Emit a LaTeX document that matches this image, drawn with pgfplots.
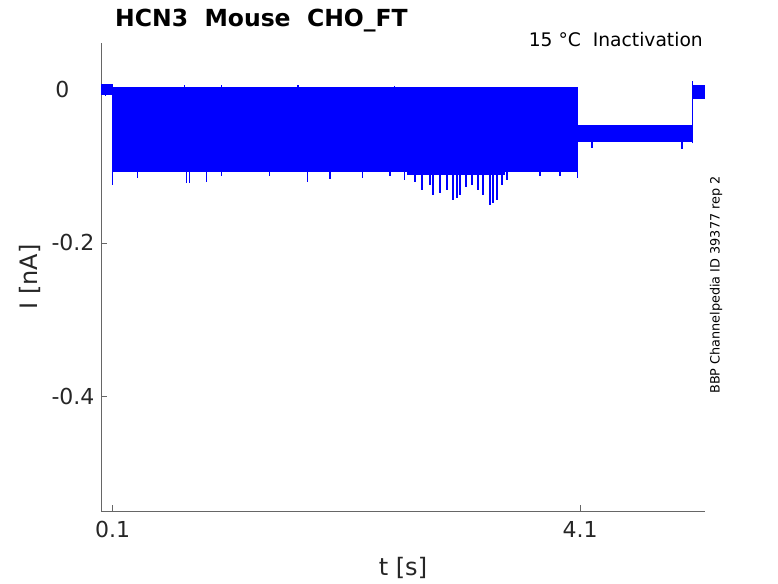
\documentclass[border=0pt]{standalone}
\usepackage{pgfplots}
\pgfplotsset{compat=1.18}
\usepackage{fontspec}
\setmainfont{DejaVu Sans}
\definecolor{tickgray}{rgb}{0.15,0.15,0.15}
\definecolor{axgray}{rgb}{0.40,0.40,0.40}
\definecolor{trace}{rgb}{0,0,1}
\begin{document}
\begin{tikzpicture}[x=1pt,y=1pt]
\begin{axis}[
  at={(101pt,72pt)}, anchor=south west,
  width=604pt, height=468pt, scale only axis,
  xmin=0, xmax=5.17, ymin=-0.55, ymax=0.061,
  axis x line*=bottom, axis y line*=left,
  axis line style={axgray, line width=0.7pt, -},
  tick align=inside, major tick length=6pt,
  tick style={axgray, line width=0.7pt},
  xtick={0.1,4.1}, xticklabels={0.1,4.1},
  ytick={-0.4,-0.2,0}, yticklabels={-0.4,-0.2,{0\kern25pt}},
  ticklabel style={font=\fontsize{22}{26}\selectfont, text=tickgray},
  xticklabel style={yshift=-7pt},
  yticklabel style={xshift=-3pt},
  unbounded coords=jump,
  clip=true,
]
% --- sweeps: plateaus (pre-pulse, test pulse, tail, post) ---
\pgfplotsset{sweep/.style={trace, line width=10pt, line cap=butt, line join=miter, no markers}}
\addplot[sweep] coordinates {(0,0.001) (0.1,0.001) (0.1,nan) (0.1,-0.0035) (4.08,-0.0035) (4.08,nan) (4.08,-0.053) (5.065,-0.053) (5.065,nan) (5.065,0.000) (5.17,0.000)};
\addplot[sweep] coordinates {(0,0.000) (0.1,0.000) (0.1,nan) (0.1,-0.0155) (4.08,-0.0155) (4.08,nan) (4.08,-0.055) (5.065,-0.055) (5.065,nan) (5.065,-0.002) (5.17,-0.002)};
\addplot[sweep] coordinates {(0,-0.001) (0.1,-0.001) (0.1,nan) (0.1,-0.0275) (4.08,-0.0275) (4.08,nan) (4.08,-0.056) (5.065,-0.056) (5.065,nan) (5.065,-0.003) (5.17,-0.003)};
\addplot[sweep] coordinates {(0,0.000) (0.1,0.000) (0.1,nan) (0.1,-0.0395) (4.08,-0.0395) (4.08,nan) (4.08,-0.057) (5.065,-0.057) (5.065,nan) (5.065,-0.004) (5.17,-0.004)};
\addplot[sweep] coordinates {(0,0.001) (0.1,0.001) (0.1,nan) (0.1,-0.0515) (4.08,-0.0515) (4.08,nan) (4.08,-0.058) (5.065,-0.058) (5.065,nan) (5.065,-0.001) (5.17,-0.001)};
\addplot[sweep] coordinates {(0,-0.001) (0.1,-0.001) (0.1,nan) (0.1,-0.0635) (4.08,-0.0635) (4.08,nan) (4.08,-0.059) (5.065,-0.059) (5.065,nan) (5.065,-0.003) (5.17,-0.003)};
\addplot[sweep] coordinates {(0,0.000) (0.1,0.000) (0.1,nan) (0.1,-0.0755) (4.08,-0.0755) (4.08,nan) (4.08,-0.060) (5.065,-0.060) (5.065,nan) (5.065,-0.005) (5.17,-0.005)};
\addplot[sweep] coordinates {(0,0.001) (0.1,0.001) (0.1,nan) (0.1,-0.0875) (4.08,-0.0875) (4.08,nan) (4.08,-0.061) (5.065,-0.061) (5.065,nan) (5.065,-0.002) (5.17,-0.002)};
\addplot[sweep] coordinates {(0,0.000) (0.1,0.000) (0.1,nan) (0.1,-0.1005) (4.08,-0.1005) (4.08,nan) (4.08,-0.062) (5.065,-0.062) (5.065,nan) (5.065,-0.003) (5.17,-0.003)};
% fringe of the lowest sweep where the noise is largest
\addplot[trace, line width=5pt, line cap=butt, no markers] coordinates {(2.62,-0.108) (3.46,-0.108)};
% --- transitions and noise spikes ---
\addplot[trace, line width=1.3pt, no markers] coordinates {
(0.1,0.003) (0.1,-0.125) (0.1,nan)
(0.04,0.0) (0.04,-0.008) (0.04,nan)
(4.08,0.003) (4.08,-0.115) (4.08,nan)
(5.065,-0.07) (5.065,0.011) (5.065,nan)
(0.314,-0.100) (0.314,-0.115) (0.314,nan)
(0.734,-0.100) (0.734,-0.122) (0.734,nan)
(0.760,-0.100) (0.760,-0.122) (0.760,nan)
(0.905,-0.100) (0.905,-0.120) (0.905,nan)
(1.034,-0.100) (1.034,-0.113) (1.034,nan)
(1.445,-0.100) (1.445,-0.113) (1.445,nan)
(1.770,-0.100) (1.770,-0.120) (1.770,nan)
(1.959,-0.100) (1.959,-0.117) (1.959,nan)
(2.241,-0.100) (2.241,-0.115) (2.241,nan)
(2.473,-0.100) (2.473,-0.113) (2.473,nan)
(2.600,-0.100) (2.600,-0.118) (2.600,nan)
(2.687,-0.100) (2.687,-0.121) (2.687,nan)
(2.747,-0.100) (2.747,-0.131) (2.747,nan)
(2.815,-0.100) (2.815,-0.124) (2.815,nan)
(2.841,-0.100) (2.841,-0.137) (2.841,nan)
(2.901,-0.100) (2.901,-0.135) (2.901,nan)
(2.961,-0.100) (2.961,-0.131) (2.961,nan)
(3.012,-0.100) (3.012,-0.144) (3.012,nan)
(3.046,-0.100) (3.046,-0.142) (3.046,nan)
(3.072,-0.100) (3.072,-0.137) (3.072,nan)
(3.124,-0.100) (3.124,-0.127) (3.124,nan)
(3.175,-0.100) (3.175,-0.124) (3.175,nan)
(3.226,-0.100) (3.226,-0.131) (3.226,nan)
(3.269,-0.100) (3.269,-0.137) (3.269,nan)
(3.329,-0.100) (3.329,-0.150) (3.329,nan)
(3.355,-0.100) (3.355,-0.148) (3.355,nan)
(3.389,-0.100) (3.389,-0.144) (3.389,nan)
(3.432,-0.100) (3.432,-0.124) (3.432,nan)
(3.475,-0.100) (3.475,-0.118) (3.475,nan)
(3.757,-0.100) (3.757,-0.113) (3.757,nan)
(3.929,-0.100) (3.929,-0.112) (3.929,nan)
(4.203,-0.065) (4.203,-0.076) (4.203,nan)
(4.974,-0.065) (4.974,-0.077) (4.974,nan)
(0.717,0.000) (0.717,0.006) (0.717,nan)
(1.034,0.000) (1.034,0.006) (1.034,nan)
(1.685,0.000) (1.685,0.006) (1.685,nan)
(2.515,0.000) (2.515,0.005) (2.515,nan)
};
\end{axis}
% titles and labels
\node[anchor=base west, font=\fontsize{23.5}{28}\selectfont\bfseries, inner sep=0pt] at (115,556) {HCN3\ \ Mouse\ \ CHO\_FT};
\node[anchor=base east, font=\fontsize{18.7}{22}\selectfont, inner sep=0pt] at (703,536) {15 °C\ \ Inactivation};
\node[rotate=90, font=\fontsize{12.8}{15}\selectfont, inner sep=0pt] at (716,298) {BBP Channelpedia ID 39377 rep 2};
\node[font=\fontsize{24}{28}\selectfont, text=tickgray, inner sep=0pt] at (403,15) {t [s]};
\node[rotate=90, font=\fontsize{24}{28}\selectfont, text=tickgray, inner sep=0pt] at (30,306) {I [nA]};
\pgfresetboundingbox
\path[use as bounding box] (0,0) rectangle (778,583);
\end{tikzpicture}
\end{document}
